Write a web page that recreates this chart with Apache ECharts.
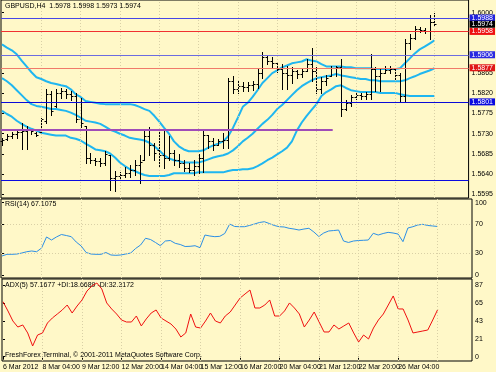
<!DOCTYPE html>
<html><head><meta charset="utf-8">
<script src="https://cdn.jsdelivr.net/npm/echarts@6/dist/echarts.min.js"></script>
<style>html,body{margin:0;padding:0;background:#FFF8C8}#c{width:496px;height:372px}</style>
</head><body><div id="c"></div>
<script>
const timeLabels = ['6 Mar 2012','8 Mar 04:00','9 Mar 12:00','12 Mar 20:00','14 Mar 04:00','15 Mar 12:00','16 Mar 20:00','20 Mar 04:00','21 Mar 12:00','22 Mar 20:00','26 Mar 04:00','27 Mar 12:00'];
const timeLabelBars = [0,8,16,24,32,40,48,56,64,72,80,88];
const priceTicks = [1.5595,1.5640,1.5685,1.5730,1.5775,1.5820,1.5865,1.6000];
const rsiTicks = [0,30,70,100];
const rsiLevels = [30,70];
const adxTicks = [0,21.75,43.5,65.25,87];
const adxTickLabels = ['0','21','43','65','87'];

const open = [1.5713,1.5719,1.5726,1.5730,1.5735,1.5737,1.5739,1.5732,1.5735,1.5759,
 1.5818,1.5792,1.5821,1.5825,1.5818,1.5814,1.5763,1.5748,1.5675,1.5671,
 1.5669,1.5664,1.5682,1.5631,1.5636,1.5638,1.5642,1.5649,1.5660,1.5671,
 1.5726,1.5704,1.5693,1.5682,1.5675,1.5688,1.5671,1.5664,1.5653,1.5649,
 1.5658,1.5675,1.5728,1.5713,1.5706,1.5713,1.5715,1.5847,1.5829,1.5836,
 1.5834,1.5838,1.5841,1.5865,1.5900,1.5893,1.5887,1.5874,1.5865,1.5860,
 1.5869,1.5863,1.5869,1.5885,1.5869,1.5829,1.5847,1.5858,1.5876,1.5878,
 1.5785,1.5799,1.5812,1.5816,1.5814,1.5818,1.5874,1.5858,1.5865,1.5871,
 1.5874,1.5860,1.5814,1.5933,1.5944,1.5964,1.5962,1.5960,1.5978];
const high = [1.5721,1.5730,1.5735,1.5741,1.5755,1.5748,1.5741,1.5735,1.5766,1.5829,
 1.5825,1.5829,1.5832,1.5829,1.5825,1.5821,1.5810,1.5748,1.5688,1.5677,
 1.5677,1.5691,1.5682,1.5647,1.5644,1.5655,1.5660,1.5671,1.5682,1.5741,
 1.5746,1.5710,1.5741,1.5737,1.5724,1.5693,1.5684,1.5671,1.5664,1.5671,
 1.5684,1.5739,1.5728,1.5721,1.5719,1.5732,1.5854,1.5858,1.5847,1.5845,
 1.5845,1.5847,1.5874,1.5913,1.5904,1.5900,1.5887,1.5885,1.5880,1.5878,
 1.5871,1.5874,1.5896,1.5922,1.5878,1.5856,1.5860,1.5882,1.5882,1.5896,
 1.5805,1.5816,1.5821,1.5821,1.5823,1.5907,1.5878,1.5876,1.5880,1.5880,
 1.5874,1.5865,1.5942,1.5953,1.5971,1.5968,1.5966,1.5995,1.5998];
const low = [1.5704,1.5715,1.5721,1.5721,1.5697,1.5697,1.5730,1.5724,1.5735,1.5755,
 1.5772,1.5790,1.5810,1.5810,1.5805,1.5757,1.5746,1.5664,1.5664,1.5660,
 1.5658,1.5660,1.5605,1.5603,1.5631,1.5633,1.5633,1.5638,1.5620,1.5671,
 1.5682,1.5671,1.5655,1.5653,1.5671,1.5660,1.5655,1.5647,1.5644,1.5638,
 1.5642,1.5644,1.5699,1.5693,1.5706,1.5699,1.5699,1.5821,1.5821,1.5825,
 1.5825,1.5827,1.5832,1.5854,1.5885,1.5878,1.5867,1.5829,1.5829,1.5843,
 1.5854,1.5856,1.5869,1.5847,1.5821,1.5821,1.5838,1.5858,1.5858,1.5770,
 1.5783,1.5792,1.5807,1.5807,1.5807,1.5807,1.5825,1.5825,1.5865,1.5865,
 1.5852,1.5803,1.5803,1.5918,1.5940,1.5957,1.5955,1.5942,1.5973];
const close = [1.5715,1.5724,1.5730,1.5735,1.5737,1.5739,1.5737,1.5728,1.5763,1.5818,
 1.5781,1.5821,1.5825,1.5818,1.5814,1.5763,1.5755,1.5675,1.5671,1.5669,
 1.5664,1.5684,1.5631,1.5636,1.5638,1.5642,1.5649,1.5660,1.5666,1.5726,
 1.5704,1.5688,1.5682,1.5675,1.5688,1.5671,1.5664,1.5653,1.5649,1.5658,
 1.5675,1.5728,1.5713,1.5704,1.5713,1.5715,1.5847,1.5829,1.5836,1.5834,
 1.5838,1.5841,1.5865,1.5900,1.5893,1.5887,1.5874,1.5865,1.5860,1.5869,
 1.5863,1.5869,1.5885,1.5869,1.5829,1.5847,1.5854,1.5876,1.5878,1.5785,
 1.5799,1.5812,1.5816,1.5814,1.5818,1.5874,1.5858,1.5865,1.5871,1.5874,
 1.5860,1.5814,1.5933,1.5944,1.5964,1.5962,1.5960,1.5978,1.5974];

const bbUpper = [1.5929,1.5922,1.5916,1.5907,1.5893,1.5880,1.5867,1.5856,1.5852,1.5847,
 1.5843,1.5841,1.5838,1.5836,1.5829,1.5818,1.5812,1.5803,1.5801,1.5799,
 1.5797,1.5796,1.5796,1.5796,1.5796,1.5796,1.5796,1.5794,1.5790,1.5785,
 1.5781,1.5770,1.5757,1.5743,1.5730,1.5713,1.5702,1.5695,1.5691,1.5691,
 1.5691,1.5693,1.5699,1.5704,1.5708,1.5713,1.5724,1.5743,1.5766,1.5790,
 1.5799,1.5812,1.5827,1.5843,1.5854,1.5865,1.5871,1.5878,1.5882,1.5887,
 1.5889,1.5891,1.5896,1.5893,1.5891,1.5885,1.5880,1.5880,1.5880,1.5880,
 1.5878,1.5878,1.5876,1.5876,1.5876,1.5876,1.5874,1.5874,1.5874,1.5874,
 1.5874,1.5876,1.5887,1.5898,1.5909,1.5918,1.5924,1.5931,1.5938];
const bbMiddle = [1.5854,1.5847,1.5838,1.5827,1.5816,1.5805,1.5796,1.5792,1.5790,1.5788,
 1.5785,1.5785,1.5783,1.5781,1.5777,1.5772,1.5766,1.5759,1.5757,1.5755,
 1.5752,1.5746,1.5739,1.5735,1.5730,1.5726,1.5721,1.5719,1.5717,1.5715,
 1.5710,1.5702,1.5693,1.5682,1.5675,1.5671,1.5669,1.5666,1.5666,1.5666,
 1.5666,1.5669,1.5673,1.5677,1.5680,1.5682,1.5686,1.5693,1.5702,1.5713,
 1.5721,1.5730,1.5741,1.5752,1.5761,1.5772,1.5785,1.5794,1.5805,1.5816,
 1.5827,1.5836,1.5843,1.5849,1.5854,1.5856,1.5858,1.5860,1.5863,1.5860,
 1.5858,1.5856,1.5854,1.5852,1.5852,1.5849,1.5849,1.5847,1.5847,1.5847,
 1.5847,1.5847,1.5849,1.5854,1.5858,1.5863,1.5867,1.5871,1.5876];
const bbLower = [1.5781,1.5774,1.5768,1.5759,1.5752,1.5746,1.5741,1.5737,1.5732,1.5730,
 1.5728,1.5726,1.5726,1.5726,1.5721,1.5719,1.5715,1.5708,1.5702,1.5695,
 1.5693,1.5691,1.5686,1.5677,1.5666,1.5658,1.5651,1.5647,1.5642,1.5638,
 1.5636,1.5636,1.5636,1.5636,1.5638,1.5642,1.5642,1.5642,1.5642,1.5642,
 1.5644,1.5644,1.5644,1.5644,1.5644,1.5644,1.5647,1.5649,1.5649,1.5651,
 1.5651,1.5653,1.5658,1.5664,1.5671,1.5677,1.5684,1.5691,1.5699,1.5713,
 1.5737,1.5755,1.5770,1.5783,1.5796,1.5814,1.5823,1.5829,1.5836,1.5838,
 1.5832,1.5827,1.5825,1.5823,1.5823,1.5823,1.5823,1.5821,1.5821,1.5821,
 1.5821,1.5818,1.5816,1.5814,1.5814,1.5814,1.5814,1.5814,1.5814];

const rsi = [26.3,28.6,28.6,29.0,30.4,32.2,33.2,32.2,37.3,52.6,
 48.4,52.6,56.0,54.6,53.0,45.6,40.1,31.1,29.0,28.6,
 28.6,31.1,27.7,27.2,27.7,29.0,30.4,36.7,41.5,50.8,
 49.1,45.0,40.5,47.0,47.7,43.8,42.2,39.4,39.7,40.5,
 37.8,55.3,53.9,53.0,53.5,57.4,70.5,67.1,66.8,66.8,
 68.5,70.5,72.6,73.7,71.2,68.5,66.8,66.4,64.6,63.6,
 62.2,63.6,64.6,59.5,53.3,58.1,60.9,61.5,62.2,47.0,
 45.0,47.0,47.7,48.0,48.4,57.7,55.3,57.4,59.0,58.1,
 56.7,46.1,65.0,66.8,69.2,70.1,68.5,67.8,67.1075];
const adx = [66.7,55.5,43.3,36.0,38.5,28.8,13.0,26.3,28.8,40.9,
 47.0,51.8,56.7,62.7,53.0,61.5,68.8,79.7,85.8,89.4,
 82.2,65.2,57.9,51.8,44.5,42.1,42.1,49.4,37.3,45.8,
 53.0,56.7,47.0,43.3,39.7,33.6,23.9,28.8,51.8,36.0,
 34.8,43.3,53.0,43.3,40.9,49.4,54.2,62.7,71.2,76.1,
 80.9,59.1,59.1,62.7,68.8,49.4,49.4,55.5,65.2,59.1,
 51.8,36.0,44.5,54.2,42.1,30.0,30.0,38.5,33.6,37.3,
 40.9,28.8,17.8,26.3,21.5,34.8,44.5,51.8,62.7,73.7,
 57.9,57.9,44.5,28.8,30.0,31.2,32.4,44.5,57.1677];

const hLines = [
  {v:1.5988, line:'#4646E6', box:'#2222DD', label:true},
  {v:1.5958, line:'#F03030', box:'#EE1111', label:true},
  {v:1.5906, line:'#6C6CE0', box:'#2A2AE0', label:true},
  {v:1.5877, line:'#F07A6A', box:'#E01818', label:true},
  {v:1.5801, line:'#0A0AD8', box:'#0A0AE0', label:true},
  {v:1.5626, line:'#0A0AE0', box:null, label:false}
];
const bidPrice = 1.5974;
const trendLine = {price:1.5739, fromBar:-0.2, toBar:67.3};

const FONT = "'Liberation Sans Narrow','Liberation Sans',Arial,sans-serif";
const X_MIN = -0.2, X_MAX = 94.95;

const chart = echarts.init(document.getElementById('c'), null, {renderer:'canvas'});

function renderOHLC(params, api) {
  const i = api.value(0);
  const o = api.coord([i, api.value(1)]);
  const h = api.coord([i, api.value(2)]);
  const l = api.coord([i, api.value(3)]);
  const c = api.coord([i, api.value(4)]);
  const x = Math.round(h[0]) + 0.5;
  const st = {stroke:'#000', lineWidth:1};
  const yo = Math.round(o[1]) + 0.5, yc = Math.round(c[1]) + 0.5;
  return {type:'group', children:[
    {type:'line', shape:{x1:x, y1:Math.round(h[1]), x2:x, y2:Math.round(l[1]) + 1}, style:st},
    {type:'line', shape:{x1:x - 2, y1:yo, x2:x, y2:yo}, style:st},
    {type:'line', shape:{x1:x, y1:yc, x2:x + 2, y2:yc}, style:st}
  ]};
}

const axisText = {fontFamily:FONT, fontSize:7, color:'#000'};
function xAxisFor(k, showLabels) {
  return {
    gridIndex:k, type:'value', min:X_MIN, max:X_MAX,
    axisLine:{show:false},
    axisTick:{show:showLabels, customValues:timeLabelBars, length:3, lineStyle:{color:'#000'}},
    axisLabel:{show:showLabels, customValues:timeLabelBars, align:'left', margin:3, ...axisText,
      formatter:(v)=> timeLabels[timeLabelBars.indexOf(v)] || ''},
    splitLine:{show:false}
  };
}
function yAxisFor(k, min, max, ticks, fmt) {
  return {
    gridIndex:k, type:'value', position:'right', min, max,
    axisLine:{show:false},
    axisTick:{show:true, customValues:ticks, length:2, lineStyle:{color:'#000'}},
    axisLabel:{customValues:ticks, margin:3, ...axisText, formatter:fmt},
    splitLine:{show:false}
  };
}

const barData = open.map((o, i) => [i, o, high[i], low[i], close[i]]);
const toXY = arr => arr.map((v, i) => [i, v]);

const mlData = hLines.map(h => ({
  yAxis:h.v,
  lineStyle:{color:h.line, width:1, type:'solid', opacity:1},
  label:h.label ? {show:true, backgroundColor:h.box, color:'#fff'} : {show:false}
}));
mlData.push({yAxis:bidPrice, lineStyle:{color:'rgba(0,0,0,0)', width:1}, label:{show:true, backgroundColor:'#000', color:'#fff'}});
mlData.push([{coord:[trendLine.fromBar, trendLine.price], lineStyle:{color:'#A04CB8', width:2, type:'solid'}, label:{show:false}},
             {coord:[trendLine.toBar, trendLine.price]}]);

const gridLineStyle = {color:'#D9D0A6', type:[1,2], width:1};
const vGrid = {silent:true, symbol:'none', precision:4, label:{show:false}, lineStyle:gridLineStyle,
  data:timeLabelBars.filter(b => b > 0).map(b => ({xAxis:b}))};

const bandStyle = {color:'#1FB6F0', width:2};
const gridBase = {show:true, borderColor:'#000', borderWidth:1, backgroundColor:'transparent'};

chart.setOption({
  animation:false,
  backgroundColor:'#FFF8C8',
  grid:[
    {...gridBase, left:1, top:-2, width:471, height:200},
    {...gridBase, left:1, top:199, width:471, height:79},
    {...gridBase, left:1, top:279, width:471, height:82}
  ],
  xAxis:[xAxisFor(0,false), xAxisFor(1,false), xAxisFor(2,true)],
  yAxis:[
    yAxisFor(0, 1.558684, 1.602801, priceTicks, v => v.toFixed(4)),
    yAxisFor(1, -4.15, 105.12, rsiTicks, v => String(v)),
    yAxisFor(2, -5.22, 94.28, adxTicks, v => adxTickLabels[adxTicks.indexOf(v)] || '')
  ],
  graphic:[
    {type:'text', left:5, top:3, style:{text:'GBPUSD,H4  1.5978 1.5998 1.5973 1.5974', font:"7px "+FONT, fill:'#000'}},
    {type:'text', left:5, top:201, style:{text:'RSI(14) 67.1075', font:"7px "+FONT, fill:'#000'}},
    {type:'text', left:5, top:282, style:{text:'ADX(5) 57.1677 +DI:18.6689 -DI:32.3172', font:"7px "+FONT, fill:'#000'}},
    {type:'text', left:5, top:352, style:{text:'FreshForex Terminal, \u00A9 2001-2011 MetaQuotes Software Corp.', font:"7px "+FONT, fill:'#000'}}
  ],
  series:[
    {type:'line', xAxisIndex:0, yAxisIndex:0, data:toXY(bbMiddle), showSymbol:false, lineStyle:bandStyle, silent:true, z:2,
      markLine:vGrid},
    {type:'line', xAxisIndex:0, yAxisIndex:0, data:toXY(bbLower), showSymbol:false, lineStyle:bandStyle, silent:true, z:2},
    {type:'line', xAxisIndex:0, yAxisIndex:0, data:toXY(bbUpper), showSymbol:false, lineStyle:bandStyle, silent:true, z:2,
      markLine:{silent:true, symbol:'none', precision:4, animation:false,
        label:{position:'end', distance:1, color:'#fff', fontFamily:FONT, fontSize:7, padding:[0,2,0,2], lineHeight:7,
          formatter:p => Number(p.value).toFixed(4)},
        data:mlData}},
    {type:'custom', xAxisIndex:0, yAxisIndex:0, data:barData, renderItem:renderOHLC,
      encode:{x:0, y:[1,2,3,4]}, silent:true, z:3},
    {type:'line', xAxisIndex:1, yAxisIndex:1, data:toXY(rsi), showSymbol:false, lineStyle:{color:'#2B8FE6', width:1}, silent:true,
      markLine:{silent:true, symbol:'none', precision:4, label:{show:false}, lineStyle:gridLineStyle,
        data:rsiLevels.map(v => ({yAxis:v})).concat(timeLabelBars.filter(b => b > 0).map(b => ({xAxis:b})))}},
    {type:'line', xAxisIndex:2, yAxisIndex:2, data:toXY(adx), showSymbol:false, lineStyle:{color:'#F01010', width:1}, silent:true,
      markLine:vGrid}
  ]
});
</script></body></html>
